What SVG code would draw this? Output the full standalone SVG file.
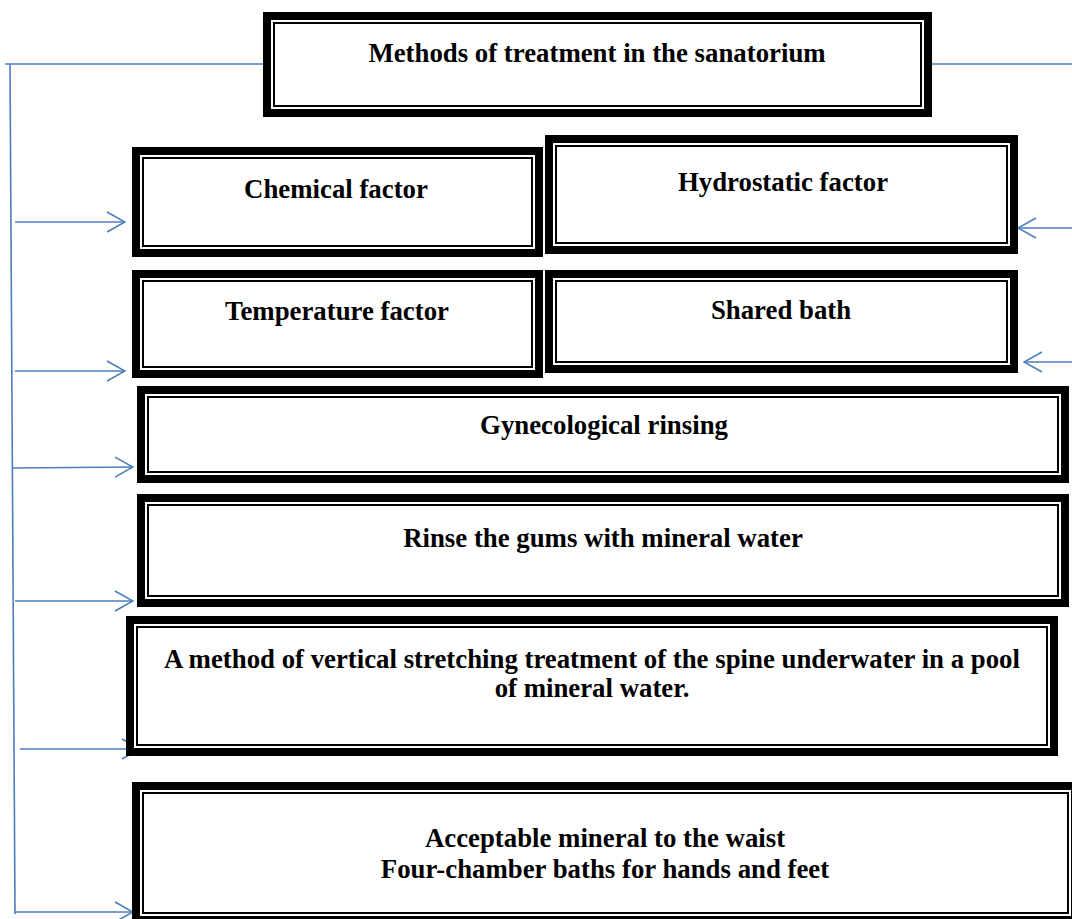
<svg xmlns="http://www.w3.org/2000/svg" width="1072" height="919" viewBox="0 0 1072 919">
<style>
.thick{fill:#fff;stroke:#000;stroke-width:8}
.thin{fill:none;stroke:#000;stroke-width:2}
.t{font-family:"Liberation Serif","Times New Roman",serif;font-weight:bold;font-size:26.8px;fill:#000;text-anchor:middle}
.c{fill:none;stroke:#4a7ebb;stroke-width:1.6}
</style>
<defs>
<marker id="ah" viewBox="0 0 20 22" refX="19" refY="11" markerWidth="20" markerHeight="22" markerUnits="userSpaceOnUse" orient="auto">
<path d="M1,1 L19,11 L1,21" fill="none" stroke="#4a7ebb" stroke-width="1.6"/>
</marker>
</defs>
<rect width="1072" height="919" fill="#fff"/>
<g id="connectors">
<line class="c" x1="5" y1="64" x2="263" y2="64"/>
<line class="c" x1="10" y1="64" x2="15" y2="914"/>
<line class="c" x1="932" y1="64" x2="1072" y2="64"/>
<line class="c" x1="15" y1="222" x2="125" y2="222" marker-end="url(#ah)"/>
<line class="c" x1="15" y1="371" x2="125" y2="371" marker-end="url(#ah)"/>
<line class="c" x1="13" y1="468" x2="133" y2="467" marker-end="url(#ah)"/>
<line class="c" x1="15" y1="601" x2="133" y2="601" marker-end="url(#ah)"/>
<line class="c" x1="20" y1="749" x2="140" y2="749" marker-end="url(#ah)"/>
<line class="c" x1="15" y1="912" x2="133" y2="912" marker-end="url(#ah)"/>
<line class="c" x1="1072" y1="228" x2="1018" y2="228" marker-end="url(#ah)"/>
<line class="c" x1="1072" y1="362" x2="1024" y2="362" marker-end="url(#ah)"/>
</g>
<g id="top">
<rect class="thick" x="267" y="16" width="661" height="97"/>
<rect class="thin" x="274" y="23" width="647" height="83"/>
<text class="t" x="597" y="62">Methods of treatment in the sanatorium</text>
</g>
<g id="chemical">
<rect class="thick" x="136" y="151" width="403" height="102"/>
<rect class="thin" x="143" y="158" width="389" height="88"/>
<text class="t" x="336" y="198">Chemical factor</text>
</g>
<g id="hydrostatic">
<rect class="thick" x="549" y="139" width="465" height="111"/>
<rect class="thin" x="556" y="146" width="451" height="97"/>
<text class="t" x="783" y="191">Hydrostatic factor</text>
</g>
<g id="temperature">
<rect class="thick" x="136" y="274" width="403" height="100"/>
<rect class="thin" x="143" y="281" width="389" height="86"/>
<text class="t" x="337" y="320">Temperature factor</text>
</g>
<g id="shared">
<rect class="thick" x="549" y="274" width="465" height="95"/>
<rect class="thin" x="556" y="281" width="451" height="81"/>
<text class="t" x="781" y="319">Shared bath</text>
</g>
<g id="gynecological">
<rect class="thick" x="141" y="390" width="924" height="89"/>
<rect class="thin" x="148" y="397" width="910" height="75"/>
<text class="t" x="604" y="434">Gynecological rinsing</text>
</g>
<g id="rinse">
<rect class="thick" x="141" y="498" width="924" height="105"/>
<rect class="thin" x="148" y="505" width="910" height="91"/>
<text class="t" x="603" y="547">Rinse the gums with mineral water</text>
</g>
<g id="vertical">
<rect class="thick" x="130" y="620" width="924" height="132"/>
<rect class="thin" x="137" y="627" width="910" height="118"/>
<text class="t" x="592" y="668">A method of vertical stretching treatment of the spine underwater in a pool</text>
<text class="t" x="592" y="697">of mineral water.</text>
</g>
<g id="baths">
<rect class="thick" x="136" y="786" width="939" height="134"/>
<rect class="thin" x="143" y="793" width="925" height="120"/>
<text class="t" x="605" y="847">Acceptable mineral to the waist</text>
<text class="t" x="605" y="878">Four-chamber baths for hands and feet</text>
</g>
</svg>
